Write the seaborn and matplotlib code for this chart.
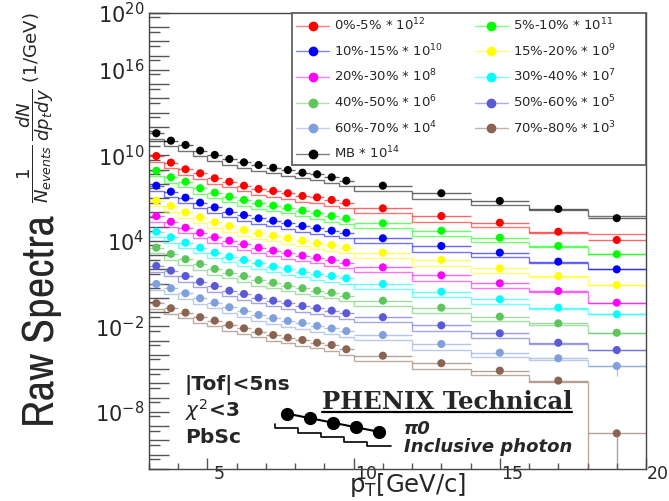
import numpy as np
import pandas as pd
import matplotlib
matplotlib.use("Agg")
import matplotlib.pyplot as plt
import matplotlib.transforms as mtransforms
from matplotlib.lines import Line2D
from matplotlib.legend_handler import HandlerBase
from matplotlib.ticker import FixedLocator, MultipleLocator, NullFormatter, FuncFormatter
from matplotlib import font_manager
import seaborn as sns

# ---------------------------------------------------------------- binning
edges = [3.0, 3.5, 4.0, 4.5, 5.0, 5.5, 6.0, 6.5, 7.0, 7.5, 8.0, 8.5, 9.0, 9.5,
         10.0, 12.0, 14.0, 16.0, 18.0, 20.0]

# ---------------------------------------------------------------- series
series_names = ["0%-5%", "5%-10%", "10%-15%", "15%-20%", "20%-30%", "30%-40%",
                "40%-50%", "50%-60%", "60%-70%", "70%-80%", "MB"]
scale_exp = [12, 11, 10, 9, 8, 7, 6, 5, 4, 3, 14]
colors = ["#ff0000", "#00ff00", "#0000ff", "#ffff00", "#ff00ff", "#00ffff",
          "#5cc65c", "#5a5ad6", "#80a0dc", "#8a6450", "#000000"]

# log10 of the scaled pi0 raw yield, one entry per pT bin
pi0_0_5 = [9.96, 9.50, 9.03, 8.75, 8.40, 8.16, 7.88, 7.65, 7.51, 7.35, 7.16, 7.06, 6.88, 6.69, 6.29, 5.75, 5.28, 4.65, 4.07]
pi0_5_10 = [8.93, 8.47, 8.16, 7.70, 7.39, 7.11, 6.88, 6.64, 6.48, 6.34, 6.13, 5.94, 5.75, 5.57, 5.24, 4.72, 4.23, 3.65, 3.07]
pi0_10_15 = [7.88, 7.46, 7.04, 6.69, 6.36, 6.06, 5.82, 5.59, 5.42, 5.24, 5.05, 4.89, 4.72, 4.58, 4.19, 3.65, 3.18, 2.55, 2.01]
pi0_15_20 = [6.83, 6.46, 6.01, 5.66, 5.31, 5.05, 4.77, 4.54, 4.37, 4.19, 4.02, 3.84, 3.72, 3.53, 3.18, 2.67, 2.08, 1.54, 0.91]
pi0_20_30 = [5.75, 5.35, 4.93, 4.58, 4.26, 4.02, 3.77, 3.53, 3.32, 3.14, 2.97, 2.83, 2.67, 2.48, 2.15, 1.59, 1.03, 0.49, -0.33]
pi0_30_40 = [4.65, 4.26, 3.88, 3.53, 3.18, 2.90, 2.67, 2.44, 2.20, 2.04, 1.85, 1.68, 1.54, 1.38, 0.98, 0.44, -0.09, -0.68, -1.14]
pi0_40_50 = [3.53, 3.09, 2.72, 2.39, 2.04, 1.78, 1.54, 1.26, 1.07, 0.86, 0.68, 0.51, 0.37, 0.16, -0.19, -0.68, -1.31, -1.78, -2.44]
pi0_50_60 = [2.25, 1.92, 1.54, 1.14, 0.84, 0.51, 0.28, 0.02, -0.19, -0.37, -0.56, -0.72, -0.89, -1.07, -1.35, -1.92, -2.48, -3.14, -3.65]
pi0_60_70 = [0.98, 0.68, 0.33, -0.02, -0.33, -0.65, -0.91, -1.19, -1.42, -1.61, -1.75, -1.96, -2.14, -2.32, -2.60, -3.23, -3.84, -4.23, -4.77]
pi0_70_80 = [-0.37, -0.72, -1.03, -1.35, -1.59, -1.89, -2.13, -2.36, -2.60, -2.78, -2.95, -3.14, -3.30, -3.60, -4.05, -4.58, -5.10, -5.80, -9.50]
pi0_mb = [11.56, 11.04, 10.74, 10.34, 10.04, 9.75, 9.52, 9.33, 9.14, 8.98, 8.79, 8.68, 8.47, 8.23, 7.88, 7.35, 6.81, 6.25, 5.60]

# log10 of the scaled inclusive photon raw yield (step histograms)
gam_0_5 = [9.56, 9.10, 8.63, 8.35, 8.00, 7.76, 7.48, 7.25, 7.11, 6.95, 6.76, 6.66, 6.48, 6.29, 5.94, 5.35, 4.98, 4.55, 4.47]
gam_5_10 = [8.53, 8.07, 7.76, 7.30, 6.99, 6.71, 6.48, 6.24, 6.08, 5.94, 5.73, 5.54, 5.35, 5.17, 4.89, 4.32, 3.93, 3.55, 3.07]
gam_10_15 = [7.48, 7.06, 6.64, 6.29, 5.96, 5.66, 5.42, 5.19, 5.02, 4.84, 4.65, 4.49, 4.32, 4.18, 3.84, 3.25, 2.88, 2.45, 2.01]
gam_15_20 = [6.43, 6.06, 5.61, 5.26, 4.91, 4.65, 4.37, 4.14, 3.97, 3.79, 3.62, 3.44, 3.32, 3.13, 2.83, 2.27, 1.78, 1.44, 0.91]
gam_20_30 = [5.35, 4.95, 4.53, 4.18, 3.86, 3.62, 3.37, 3.13, 2.92, 2.74, 2.57, 2.43, 2.27, 2.08, 1.80, 1.19, 0.73, 0.39, -0.33]
gam_30_40 = [4.25, 3.86, 3.48, 3.13, 2.78, 2.50, 2.27, 2.04, 1.80, 1.64, 1.45, 1.28, 1.14, 0.98, 0.63, 0.04, -0.39, -0.78, -1.14]
gam_40_50 = [3.13, 2.69, 2.32, 1.99, 1.64, 1.38, 1.14, 0.86, 0.67, 0.46, 0.28, 0.11, -0.03, -0.24, -0.54, -1.08, -1.61, -1.88, -2.44]
gam_50_60 = [1.85, 1.52, 1.14, 0.74, 0.44, 0.11, -0.12, -0.38, -0.59, -0.77, -0.96, -1.12, -1.29, -1.47, -1.70, -2.32, -2.78, -3.24, -3.65]
gam_60_70 = [0.58, 0.28, -0.07, -0.42, -0.73, -1.05, -1.31, -1.59, -1.82, -2.01, -2.15, -2.36, -2.54, -2.72, -2.95, -3.63, -4.14, -4.33, -4.77]
gam_70_80 = [-0.77, -1.12, -1.43, -1.75, -1.99, -2.29, -2.53, -2.76, -3.00, -3.18, -3.35, -3.54, -3.70, -4.00, -4.40, -4.98, -5.40, -5.90, -np.inf]
gam_mb = [11.16, 10.64, 10.34, 9.94, 9.64, 9.35, 9.12, 8.93, 8.74, 8.58, 8.39, 8.28, 8.07, 7.83, 7.53, 6.95, 6.51, 6.15, 5.75]

# relative statistical error of the last pT bin
last_bin_relerr = [0.10, 0.10, 0.10, 0.15, 0.20, 0.25, 0.30, 0.50, 0.80, 1.00, 0.05]

pi0_sets = [pi0_0_5, pi0_5_10, pi0_10_15, pi0_15_20, pi0_20_30, pi0_30_40,
            pi0_40_50, pi0_50_60, pi0_60_70, pi0_70_80, pi0_mb]
gam_sets = [gam_0_5, gam_5_10, gam_10_15, gam_15_20, gam_20_30, gam_30_40,
            gam_40_50, gam_50_60, gam_60_70, gam_70_80, gam_mb]

# y tick labels shown on the log axis (exponents)
ylabel_exps = [20, 16, 10, 4, -2, -8]
xmajor = [5, 10, 15, 20]

# ---------------------------------------------------------------- style
sns.set_theme(style="ticks")
plt.rcParams["font.family"] = ["DejaVu Sans"]
plt.rcParams["mathtext.fontset"] = "dejavusans"
plt.rcParams["axes.edgecolor"] = "#444444"

edges_a = np.asarray(edges)
centers = 0.5 * (edges_a[:-1] + edges_a[1:])
halfw = 0.5 * np.diff(edges_a)

rows = []
for name, vals in zip(series_names, pi0_sets):
    for c, v in zip(centers, vals):
        rows.append({"pT": c, "yield": 10.0 ** v, "series": name})
df = pd.DataFrame(rows)

fig = plt.figure(figsize=(6.69, 5.01), dpi=100)
ax = fig.add_axes([0.2227, 0.0639, 0.7429, 0.9102])
ax.set_yscale("log", nonpositive="clip")
ax.set_xlim(3, 20)
ax.set_ylim(1e-12, 1e20)

palette = dict(zip(series_names, colors))

for name, col, pv, gv, rel in zip(series_names, colors, pi0_sets, gam_sets, last_bin_relerr):
    y = 10.0 ** np.asarray(pv, dtype=float)
    g = 10.0 ** np.asarray(gv, dtype=float)
    yerr = np.zeros_like(y)
    yerr[-1] = rel * y[-1]
    ax.stairs(g, edges_a, baseline=None, color=col, alpha=0.55, lw=1.0, zorder=2)
    ax.errorbar(centers, y, xerr=halfw, yerr=yerr, fmt="none", ecolor=col,
                alpha=0.6, elinewidth=1.0, capsize=0, zorder=2)

sns.scatterplot(data=df, x="pT", y="yield", hue="series", hue_order=series_names,
                palette=palette, s=34, linewidth=0, legend=False, ax=ax, zorder=3)

# ---------------------------------------------------------------- axes
ax.xaxis.set_major_locator(FixedLocator(xmajor))
ax.xaxis.set_minor_locator(MultipleLocator(1))
ax.yaxis.set_major_locator(FixedLocator(10.0 ** np.arange(-12, 21)))
ax.yaxis.set_minor_locator(FixedLocator(5 * 10.0 ** np.arange(-12, 20)))
ax.yaxis.set_minor_formatter(NullFormatter())


def ylab(v, pos):
    e = int(round(np.log10(v)))
    return r"$10^{%d}$" % e if e in ylabel_exps else ""


ax.yaxis.set_major_formatter(FuncFormatter(ylab))
ax.xaxis.set_major_formatter(FuncFormatter(lambda v, p: "%d" % v))

ax.tick_params(axis="y", which="major", direction="in", length=14.5, width=1.0,
               color="#555555", pad=3.5, labelsize=15, right=False)
ax.tick_params(axis="y", which="minor", direction="in", length=8, width=1.0,
               color="#555555", right=False)
ax.tick_params(axis="x", which="major", direction="in", length=8, width=1.0,
               color="#555555", pad=-3, labelsize=12.5, top=False)
ax.tick_params(axis="x", which="minor", direction="in", length=4.3, width=1.0,
               color="#555555", top=False)
for sp in ax.spines.values():
    sp.set_visible(True)
    sp.set_linewidth(1.0)
    sp.set_color("#444444")

ax.set_xlabel(r"p$_{\mathrm{T}}$[GeV/c]", fontsize=17.5)
ax.xaxis.set_label_coords(0.521, -0.005)
ax.set_ylabel("")

# ---------------------------------------------------------------- rotated axis titles
narrow_file = None
for entry in font_manager.fontManager.ttflist:
    st = entry.stretch
    condensed = (isinstance(st, str) and "condensed" in st) or \
                (isinstance(st, (int, float)) and st < 500) or \
                ("Narrow" in entry.name) or ("Condensed" in entry.name)
    wt = entry.weight
    regular = wt in (300, 350, 400, "light", "normal", "regular", "book")
    if condensed and entry.style == "normal" and regular:
        narrow_file = entry.fname
        if "Narrow" in entry.name or "Roboto" in entry.name:
            break

if narrow_file is not None:
    raw_prop = font_manager.FontProperties(fname=narrow_file, size=30)
else:
    raw_prop = font_manager.FontProperties(family="DejaVu Sans", size=24)
raw = fig.text(42 / 669, 1 - 321 / 501, "Raw Spectra", rotation=90, ha="center",
               va="center", fontproperties=raw_prop)
frac = fig.text(35 / 669, 1 - 108 / 501,
                r"$\dfrac{1}{N_{events}}\,\dfrac{dN}{dp_{t}dy}$ (1/GeV)",
                rotation=90, ha="center", va="center", fontsize=13)

# ---------------------------------------------------------------- centrality legend
handles = []
for name, col in zip(series_names, colors):
    rgba_line = matplotlib.colors.to_rgba(col, 0.5)
    handles.append(Line2D([], [], color=rgba_line, lw=1.0, marker="o", markersize=6,
                          markerfacecolor=col, markeredgecolor=col))
leg_labels = ["%s * $10^{%d}$" % (n, e) for n, e in zip(series_names, scale_exp)]
order = [0, 2, 4, 6, 8, 10, 1, 3, 5, 7, 9]
pad_right = " " * 7
leg_text = [leg_labels[i] + (pad_right if k >= 6 else "") for k, i in enumerate(order)]
leg1 = ax.legend([handles[i] for i in order], leg_text,
                 ncol=2, loc="upper left", bbox_to_anchor=(0.288, 1.0, 0.712, 0.0),
                 mode="expand", borderaxespad=0, fontsize=9.5, frameon=True,
                 fancybox=False, framealpha=1, edgecolor="#555555",
                 handlelength=2.5, handletextpad=0.4, labelspacing=0.68,
                 borderpad=0.3, columnspacing=2.0)
leg1.get_frame().set_linewidth(1.2)
ax.add_artist(leg1)


# ---------------------------------------------------------------- pi0 / photon key
class SlopingMarkers(HandlerBase):
    def create_artists(self, legend, orig_handle, xdescent, ydescent, width, height,
                       fontsize, trans):
        n = 5
        xs = -xdescent + width * (np.arange(n) + 0.5) / n
        ys = -ydescent + height * np.linspace(1.6, 0.15, n)
        return [Line2D(xs, ys, color="black", lw=1.5, marker="o", markersize=8.5,
                       transform=trans)]


class Staircase(HandlerBase):
    def create_artists(self, legend, orig_handle, xdescent, ydescent, width, height,
                       fontsize, trans):
        n = 5
        xe = -xdescent + np.linspace(0, width, n + 1)
        lv = -ydescent + height * np.linspace(1.85, 0.45, n)
        xs = np.concatenate([[xe[0]], np.repeat(xe, 2)[1:-1]])
        ys = np.concatenate([[lv[0] + 0.35 * height], np.repeat(lv, 2)])
        return [Line2D(xs, ys, color="black", lw=1.2, transform=trans)]


h_pi0 = Line2D([], [])
h_gam = Line2D([], [])
leg2 = ax.legend([h_pi0, h_gam], ["π0", "Inclusive photon"],
                 handler_map={h_pi0: SlopingMarkers(), h_gam: Staircase()},
                 loc="upper left", bbox_to_anchor=(0.2535, 0.108), frameon=False,
                 prop=dict(weight="bold", style="italic", size=13),
                 handlelength=6.4, handletextpad=0.75, labelspacing=0.0,
                 borderpad=0, borderaxespad=0)

# ---------------------------------------------------------------- annotations
txt = dict(transform=ax.transAxes, ha="left", va="center", fontsize=14.5, weight="bold")
ax.text(0.0724, 0.184, "|Tof|<5ns", **txt)
ax.text(0.0724, 0.129, r"$\chi^2$<3", **txt)
ax.text(0.0724, 0.070, "PbSc", **txt)

ph = ax.text(0.600, 0.1316, "PHENIX Technical", transform=ax.transAxes, ha="center",
             va="baseline", family="DejaVu Serif", weight="bold", fontsize=17.5)

# shift x tick labels to the right of their ticks
shift = mtransforms.ScaledTranslation(12 / 100, 0, fig.dpi_scale_trans)
for lab in ax.xaxis.get_majorticklabels():
    lab.set_transform(lab.get_transform() + shift)

# size the rotated titles to their span along the axis
fig.canvas.draw()
rend = fig.canvas.get_renderer()
for t, span in ((raw, 212.0), (frac, 190.0)):
    h = t.get_window_extent(renderer=rend).height
    t.set_fontsize(t.get_fontsize() * span / h)

fig.canvas.draw()
bb = ph.get_window_extent(renderer=rend)
base_y = ax.transAxes.transform((0.600, 0.1316))[1] - 3
inv = fig.transFigure.inverted()
(ux0, uy), (ux1, _) = inv.transform([[bb.x0, base_y], [bb.x1, base_y]])
fig.add_artist(Line2D([ux0, ux1], [uy, uy], transform=fig.transFigure,
                      color="black", lw=1.6))

fig.savefig("out.png", dpi=100)
